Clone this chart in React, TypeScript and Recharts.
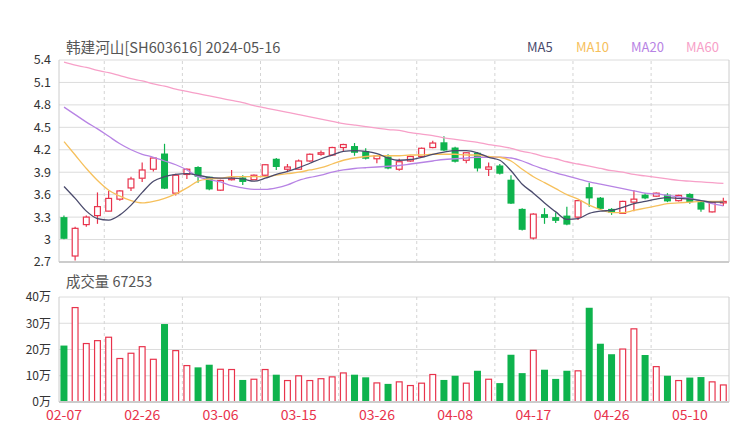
import React from 'react';
import { ComposedChart, Bar, Line, XAxis, YAxis, CartesianGrid, ReferenceLine } from 'recharts';

const dates = ['02-07','02-08','02-19','02-20','02-21','02-22','02-23','02-26','02-27','02-28','02-29','03-01','03-04','03-05','03-06','03-07','03-08','03-11','03-12','03-13','03-14','03-15','03-18','03-19','03-20','03-21','03-22','03-25','03-26','03-27','03-28','03-29','04-01','04-02','04-03','04-08','04-09','04-10','04-11','04-12','04-15','04-16','04-17','04-18','04-19','04-22','04-23','04-24','04-25','04-26','04-29','04-30','05-06','05-07','05-08','05-09','05-10','05-13','05-14','05-15'];

const opens = [3.30,2.78,3.20,3.32,3.38,3.54,3.69,3.82,3.94,4.15,3.62,3.87,3.97,3.84,3.66,3.80,3.83,3.80,3.86,4.08,3.94,3.94,4.05,4.14,4.13,4.23,4.25,4.18,4.08,4.11,3.94,4.05,4.11,4.23,4.30,4.23,4.06,4.16,3.94,3.99,3.80,3.41,3.02,3.34,3.30,3.32,3.30,3.70,3.56,3.41,3.35,3.50,3.60,3.58,3.60,3.52,3.61,3.50,3.37,3.49];
const closes = [3.01,3.15,3.30,3.44,3.55,3.65,3.81,3.93,4.09,3.68,3.86,3.94,3.84,3.67,3.79,3.82,3.77,3.86,4.00,3.97,3.97,4.05,4.14,4.16,4.23,4.27,4.16,4.08,4.12,3.95,4.04,4.11,4.22,4.29,4.19,4.04,4.16,3.95,3.97,3.88,3.48,3.13,3.34,3.29,3.25,3.20,3.52,3.55,3.41,3.36,3.51,3.54,3.55,3.62,3.51,3.59,3.50,3.40,3.50,3.51];
const highs = [3.32,3.17,3.32,3.63,3.65,3.66,3.84,4.03,4.10,4.28,3.88,3.95,3.98,3.84,3.80,3.93,3.86,3.87,4.01,4.09,4.01,4.07,4.15,4.19,4.24,4.28,4.29,4.22,4.13,4.14,4.08,4.12,4.23,4.32,4.38,4.24,4.17,4.17,4.03,4.01,3.86,3.42,3.35,3.42,3.36,3.44,3.53,3.76,3.57,3.42,3.52,3.66,3.62,3.63,3.62,3.60,3.62,3.51,3.51,3.56];
const lows = [3.005,2.72,3.17,3.21,3.375,3.52,3.65,3.77,3.91,3.675,3.59,3.81,3.76,3.66,3.65,3.79,3.73,3.795,3.84,3.93,3.90,3.935,4.04,4.12,4.125,4.18,4.12,4.07,4.02,3.94,3.92,4.04,4.105,4.22,4.185,4.03,4.02,3.91,3.85,3.87,3.475,3.12,3.00,3.21,3.22,3.19,3.26,3.44,3.40,3.33,3.34,3.38,3.54,3.57,3.50,3.51,3.48,3.37,3.36,3.45];
const volumes = [215000,362000,225000,236000,249000,168000,188000,213000,165000,297000,198000,141000,132000,142000,127000,126000,84000,89000,126000,104000,84000,102000,84000,91000,98000,113000,104000,94000,75000,69000,79000,65000,74000,107000,84000,100000,74000,119000,89000,72000,180000,110000,199000,123000,88000,119000,121000,359000,222000,182000,204000,281000,179000,137000,100000,84000,93000,95000,79000,67253];

const ma5 = [3.71,3.55,3.38,3.28,3.26,3.33,3.46,3.63,3.78,3.84,3.87,3.88,3.86,3.83,3.82,3.82,3.81,3.78,3.82,3.87,3.91,3.96,4.02,4.08,4.13,4.18,4.19,4.18,4.15,4.09,4.06,4.07,4.10,4.14,4.17,4.19,4.19,4.16,4.10,4.06,3.92,3.74,3.62,3.49,3.37,3.27,3.28,3.35,3.38,3.39,3.43,3.48,3.51,3.54,3.56,3.55,3.54,3.52,3.50,3.50];
const ma10 = [4.31,4.13,3.95,3.79,3.66,3.58,3.52,3.49,3.51,3.55,3.61,3.69,3.78,3.81,3.82,3.84,3.84,3.84,3.84,3.86,3.88,3.90,3.93,3.96,4.01,4.06,4.09,4.11,4.12,4.12,4.12,4.13,4.13,4.14,4.14,4.14,4.13,4.13,4.11,4.10,4.05,3.94,3.84,3.76,3.68,3.60,3.54,3.46,3.40,3.36,3.36,3.39,3.42,3.45,3.48,3.49,3.50,3.51,3.51,3.51];
const ma20 = [4.77,4.67,4.57,4.48,4.38,4.28,4.20,4.14,4.10,4.05,4.00,3.93,3.84,3.80,3.77,3.72,3.69,3.67,3.67,3.69,3.73,3.79,3.83,3.86,3.90,3.93,3.95,3.96,3.97,3.98,3.99,4.01,4.03,4.05,4.07,4.08,4.09,4.10,4.10,4.10,4.09,4.05,3.99,3.94,3.89,3.85,3.81,3.77,3.74,3.71,3.68,3.65,3.62,3.61,3.59,3.57,3.55,3.52,3.48,3.45];
const ma60 = [5.37,5.33,5.30,5.26,5.23,5.19,5.15,5.12,5.08,5.05,5.01,4.98,4.95,4.92,4.89,4.86,4.83,4.79,4.76,4.73,4.70,4.67,4.64,4.61,4.58,4.55,4.53,4.51,4.49,4.47,4.46,4.43,4.41,4.39,4.36,4.34,4.32,4.30,4.27,4.25,4.22,4.18,4.15,4.11,4.08,4.04,4.01,3.98,3.95,3.92,3.90,3.87,3.85,3.83,3.81,3.79,3.78,3.77,3.76,3.75];

const priceTicks = [2.7, 3, 3.3, 3.6, 3.9, 4.2, 4.5, 4.8, 5.1, 5.4];
const volTicks = [0, 100000, 200000, 300000, 400000];
const dateTickIdx = [1, 8, 15, 22, 29, 36, 43, 50, 57];
const gridX = [4.6, 11.59, 18.58, 25.57, 32.56, 39.55, 46.54, 53.53];
const xDomain = [0.55, 60.5];

const RED = '#e8334c';
const GREEN = '#0eb34d';
const C_MA5 = '#4a4a6c';
const C_MA10 = '#f6c05c';
const C_MA20 = '#b783e4';
const C_MA60 = '#f7a0c8';

const data = dates.map((d, k) => ({
  idx: k + 1,
  date: d,
  open: opens[k],
  close: closes[k],
  high: highs[k],
  low: lows[k],
  range: [lows[k], highs[k]],
  vol: volumes[k],
  ma5: ma5[k],
  ma10: ma10[k],
  ma20: ma20[k],
  ma60: ma60[k],
}));

const Candle = (props: any) => {
  const { x, y, width, height, payload } = props;
  if (!payload) return null;
  const { open, close, high, low } = payload;
  const top = Math.min(y, y + height);
  const bot = Math.max(y, y + height);
  const span = high - low;
  const py = (v: number) => (span === 0 ? top : top + ((high - v) / span) * (bot - top));
  const up = close >= open;
  const cx = x + width / 2;
  const bTop = py(Math.max(open, close));
  const bBot = py(Math.min(open, close));
  if (up) {
    return (
      <g>
        <line x1={cx} x2={cx} y1={top} y2={bTop} stroke={RED} strokeWidth={1.2} />
        <line x1={cx} x2={cx} y1={bBot} y2={bot} stroke={RED} strokeWidth={1.2} />
        <rect x={x + 0.6} y={bTop} width={width - 1.2} height={Math.max(bBot - bTop, 1.2)} fill="#fff" stroke={RED} strokeWidth={1.2} />
      </g>
    );
  }
  return (
    <g>
      <line x1={cx} x2={cx} y1={top} y2={bot} stroke={GREEN} strokeWidth={1.2} />
      <rect x={x} y={bTop} width={width} height={Math.max(bBot - bTop, 1.2)} fill={GREEN} />
    </g>
  );
};

const VolBar = (props: any) => {
  const { x, y, width, height, payload } = props;
  if (!payload) return null;
  const up = payload.close >= payload.open;
  if (up) {
    return <rect x={x + 0.6} y={y + 0.6} width={width - 1.2} height={Math.max(height - 0.6, 0)} fill="#fff" stroke={RED} strokeWidth={1.2} />;
  }
  return <rect x={x} y={y} width={width} height={height} fill={GREEN} />;
};

const textStyle: React.CSSProperties = { position: 'absolute', whiteSpace: 'nowrap', lineHeight: '18px' };

export default function App() {
  return (
    <div style={{ position: 'absolute', left: 0, top: 0, width: 740, height: 440, background: '#fff', fontFamily: '"Noto Sans CJK SC", "Noto Sans", sans-serif' }}>
      <div style={{ ...textStyle, left: 66, top: 38, fontSize: 14.6, color: '#555' }}>韩建河山[SH603616] 2024-05-16</div>
      <div style={{ ...textStyle, left: 527, top: 38, fontSize: 13, color: C_MA5 }}>MA5</div>
      <div style={{ ...textStyle, left: 576, top: 38, fontSize: 13, color: C_MA10 }}>MA10</div>
      <div style={{ ...textStyle, left: 631, top: 38, fontSize: 13, color: C_MA20 }}>MA20</div>
      <div style={{ ...textStyle, left: 686, top: 38, fontSize: 13, color: C_MA60 }}>MA60</div>
      <div style={{ ...textStyle, left: 66, top: 272, fontSize: 14.4, color: '#555' }}>成交量 67253</div>

      <div style={{ position: 'absolute', left: 0, top: 0 }}>
        <ComposedChart width={740} height={275} data={data} margin={{ top: 60, right: 11, bottom: 13, left: 0 }}>
          <CartesianGrid horizontal vertical={false} stroke="#dcdcdc" />
          <XAxis type="number" dataKey="idx" domain={xDomain} hide allowDataOverflow />
          <YAxis
            type="number"
            domain={[2.7, 5.4]}
            ticks={priceTicks}
            interval={0}
            width={59}
            allowDataOverflow
            tickLine={false}
            axisLine={{ stroke: '#cccccc' }}
            tick={{ fill: '#333', fontSize: 12.5 }}
          />
          {gridX.map((gx) => (
            <ReferenceLine key={gx} x={gx} stroke="#d4d4d4" strokeDasharray="3 3" />
          ))}
          <ReferenceLine x={xDomain[1]} stroke="#cccccc" />
          <ReferenceLine y={2.7} stroke="#cccccc" strokeWidth={2} />
          <Line type="monotone" dataKey="ma60" stroke={C_MA60} strokeWidth={1.3} dot={false} activeDot={false} isAnimationActive={false} />
          <Line type="monotone" dataKey="ma20" stroke={C_MA20} strokeWidth={1.3} dot={false} activeDot={false} isAnimationActive={false} />
          <Line type="monotone" dataKey="ma10" stroke={C_MA10} strokeWidth={1.3} dot={false} activeDot={false} isAnimationActive={false} />
          <Line type="monotone" dataKey="ma5" stroke={C_MA5} strokeWidth={1.3} dot={false} activeDot={false} isAnimationActive={false} />
          <Bar dataKey="range" barSize={7} shape={<Candle />} isAnimationActive={false} />
        </ComposedChart>
      </div>

      <div style={{ position: 'absolute', left: 0, top: 270 }}>
        <ComposedChart width={740} height={162} data={data} margin={{ top: 27, right: 11, bottom: 0, left: 0 }}>
          <CartesianGrid horizontal vertical={false} stroke="#dcdcdc" />
          <XAxis
            type="number"
            dataKey="idx"
            domain={xDomain}
            allowDataOverflow
            ticks={dateTickIdx}
            interval={0}
            height={30}
            tickLine={false}
            axisLine={{ stroke: '#cccccc', strokeWidth: 2 }}
            tick={{ fill: RED, fontSize: 14 }}
            tickFormatter={(v: number) => dates[v - 1] ?? ''}
          />
          <YAxis
            type="number"
            domain={[0, 400000]}
            ticks={volTicks}
            interval={0}
            width={59}
            allowDataOverflow
            tickLine={false}
            axisLine={{ stroke: '#cccccc' }}
            tick={{ fill: '#333', fontSize: 12 }}
            tickFormatter={(v: number) => `${v / 10000}万`}
          />
          {gridX.map((gx) => (
            <ReferenceLine key={gx} x={gx} stroke="#d4d4d4" strokeDasharray="3 3" />
          ))}
          <ReferenceLine x={xDomain[1]} stroke="#cccccc" />
          <Bar dataKey="vol" barSize={7} shape={<VolBar />} isAnimationActive={false} />
        </ComposedChart>
      </div>
    </div>
  );
}
